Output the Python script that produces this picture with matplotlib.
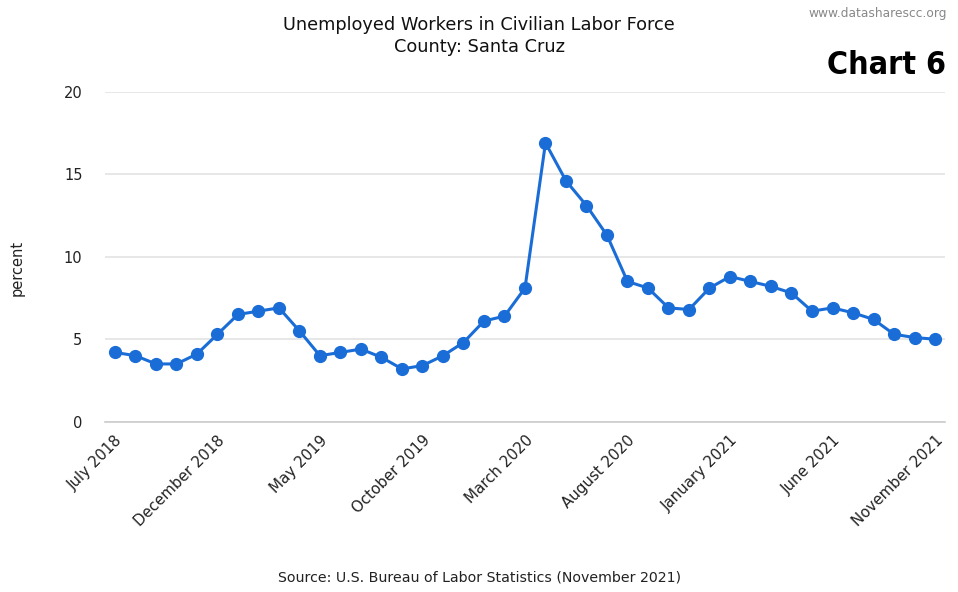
import numpy as np
import matplotlib.pyplot as plt

# Monthly unemployment rate, Santa Cruz County, July 2018 - November 2021
months = ['July 2018', 'August 2018', 'September 2018', 'October 2018', 'November 2018',
          'December 2018', 'January 2019', 'February 2019', 'March 2019', 'April 2019',
          'May 2019', 'June 2019', 'July 2019', 'August 2019', 'September 2019',
          'October 2019', 'November 2019', 'December 2019', 'January 2020', 'February 2020',
          'March 2020', 'April 2020', 'May 2020', 'June 2020', 'July 2020',
          'August 2020', 'September 2020', 'October 2020', 'November 2020', 'December 2020',
          'January 2021', 'February 2021', 'March 2021', 'April 2021', 'May 2021',
          'June 2021', 'July 2021', 'August 2021', 'September 2021', 'October 2021',
          'November 2021']
rate = [4.2, 4.0, 3.5, 3.5, 4.1, 5.3, 6.5, 6.7, 6.9, 5.5,
        4.0, 4.2, 4.4, 3.9, 3.2, 3.4, 4.0, 4.8, 6.1, 6.4,
        8.1, 16.9, 14.6, 13.1, 11.3, 8.5, 8.1, 6.9, 6.8, 8.1,
        8.8, 8.5, 8.2, 7.8, 6.7, 6.9, 6.6, 6.2, 5.3, 5.1,
        5.0]
y_ticks = [0, 5, 10, 15, 20]

x = np.arange(len(months))
blue = '#1a6dd6'

fig = plt.figure(figsize=(9.58, 5.92), dpi=100)
ax = fig.add_axes([0.1093, 0.2877, 0.8774, 0.5573])

ax.plot(x, rate, color=blue, linewidth=2.2, marker='o', markersize=8.5,
        markerfacecolor=blue, markeredgecolor=blue, zorder=3)

ax.set_xlim(-0.5, len(months) - 0.5)
ax.set_ylim(0, 20)
ax.set_yticks(y_ticks)
ax.set_yticklabels([str(t) for t in y_ticks], fontsize=10.5, color='#222222')
ax.grid(axis='y', color='#e3e3e3', linewidth=1.2)
ax.set_axisbelow(True)

ax.set_xticks(x[::5])
ax.set_xticklabels(months[::5], rotation=45, ha='right', rotation_mode='anchor',
                   fontsize=10.8, color='#222222')
ax.tick_params(axis='x', length=0, pad=8)
ax.tick_params(axis='y', length=0, pad=16)

for s in ['top', 'right', 'left']:
    ax.spines[s].set_visible(False)
ax.spines['bottom'].set_color('#cccccc')
ax.spines['bottom'].set_linewidth(1.2)

ax.set_ylabel('percent', fontsize=10.5, color='#222222')
ax.yaxis.set_label_coords(-0.095, 0.466)

fig.text(0.5, 0.958, 'Unemployed Workers in Civilian Labor Force', ha='center', va='center',
         fontsize=12.8, color='#111111')
fig.text(0.5, 0.92, 'County: Santa Cruz', ha='center', va='center',
         fontsize=12.8, color='#111111')
fig.text(0.988, 0.978, 'www.datasharescc.org', ha='right', va='center',
         fontsize=8.8, color='#888888')
fig.text(0.987, 0.89, 'Chart 6', ha='right', va='center', fontsize=23,
         fontweight='bold', fontstretch='condensed', color='black')
fig.text(0.5, 0.024, 'Source: U.S. Bureau of Labor Statistics (November 2021)',
         ha='center', va='center', fontsize=10.2, color='#222222')

fig.savefig('out.png', dpi=100)
